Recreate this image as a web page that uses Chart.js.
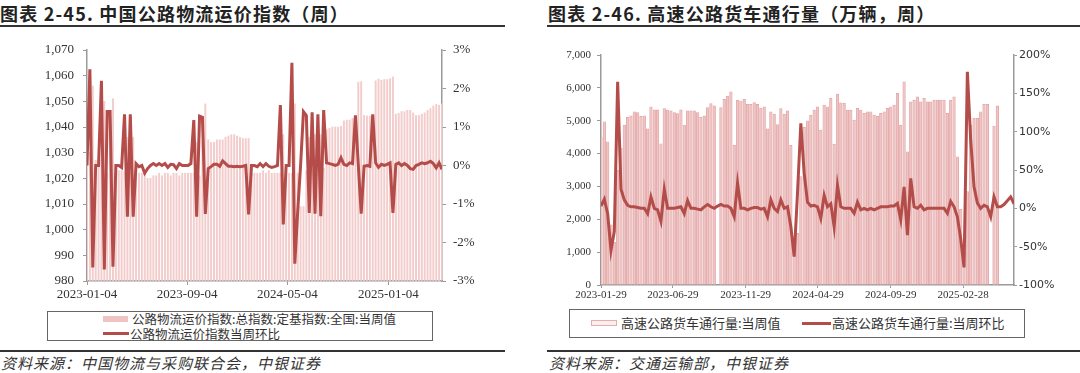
<!DOCTYPE html>
<html>
<head>
<meta charset="utf-8">
<script src="https://cdn.jsdelivr.net/npm/chart.js@4.4.1/dist/chart.umd.min.js"></script>
<style>
  body { margin: 0; width: 1080px; height: 373px; background: #fff; position: relative; overflow: hidden;
         font-family: "Noto Sans CJK SC", sans-serif; color: #222; }
  .title { position: absolute; top: 0; font-size: 18px; font-weight: bold; white-space: nowrap; letter-spacing: 1.2px; }
  .rule { position: absolute; height: 2px; background: #333; }
  canvas { position: absolute; }
  .legend { position: absolute; border: 1px solid #666; box-sizing: border-box; }
  .item { position: absolute; white-space: nowrap; line-height: 14px; color: #333; }
  .src { position: absolute; top: 352px; font-size: 15px; font-style: italic; white-space: nowrap; color: #333; letter-spacing: 1px; }
</style>
</head>
<body>
<div class="title" style="left:0">图表 2-45. 中国公路物流运价指数（周）</div>
<div class="rule" style="left:0;top:25px;width:505px"></div>
<div class="title" style="left:548px">图表 2-46. 高速公路货车通行量（万辆，周）</div>
<div class="rule" style="left:547px;top:25px;width:533px"></div>

<canvas id="freightChart" width="490" height="275" style="left:0;top:28px"></canvas>
<canvas id="truckChart" width="535" height="275" style="left:545px;top:28px"></canvas>

<div class="legend" style="left:47px;top:311px;width:386px;height:30px">
  <div style="position:absolute;left:55px;top:4px;width:25px;height:6px;background:#f0c3c3"></div>
  <div class="item" style="left:84px;top:0;font-size:12.5px">公路物流运价指数:总指数:定基指数:全国:当周值</div>
  <div style="position:absolute;left:55px;top:20px;width:26px;height:3px;background:#b44d49"></div>
  <div class="item" style="left:82px;top:15px;font-size:12.5px">公路物流运价指数当周环比</div>
</div>
<div class="legend" style="left:569px;top:309px;width:456px;height:29px">
  <div style="position:absolute;left:21px;top:10px;width:26px;height:6px;box-sizing:border-box;border:1.5px solid #e6adad;background:#fbeeee"></div>
  <div class="item" style="left:51px;top:6px;font-size:13px">高速公路货车通行量:当周值</div>
  <div style="position:absolute;left:232px;top:12px;width:29px;height:3px;background:#b44d49"></div>
  <div class="item" style="left:262px;top:6px;font-size:13px">高速公路货车通行量:当周环比</div>
</div>

<div class="rule" style="left:0;top:350px;width:505px"></div>
<div class="rule" style="left:547px;top:350px;width:533px"></div>
<div class="src" style="left:1px">资料来源：中国物流与采购联合会，中银证券</div>
<div class="src" style="left:549px">资料来源：交通运输部，中银证券</div>

<script>
// 中国公路物流运价指数（周）, weekly from 2023-01-04
const freightStart = '2023-01-04';
const freightTicks = ['2023-01-04', '2023-09-04', '2024-05-04', '2025-01-04'];
const freightIndex = [
    1030, 1030, 1056, 1027, 1027, 1027, 1050, 1022, 1036, 1051,
    1023, 1023, 1023, 1022.5, 1036, 1022.5, 1036, 1022.5, 1022, 1022,
    1022, 1020, 1020, 1021, 1021, 1022, 1021, 1022, 1022, 1021,
    1022, 1022, 1021, 1022, 1022, 1022, 1022, 1022, 1034, 1021,
    1034, 1049, 1035, 1034, 1034, 1035, 1035, 1035, 1036, 1036.5,
    1037, 1037, 1036.5, 1036, 1035.5, 1035.5, 1035.5, 1022, 1022, 1022,
    1022, 1023, 1022, 1023, 1022, 1022, 1022, 1022, 1037, 1022,
    1022, 1022, 1049, 1022, 1009, 1009, 1023, 1036, 1023, 1037,
    1024, 1037, 1024, 1039, 1039.5, 1040, 1040, 1040, 1040.3, 1042.4,
    1042.7, 1042.7, 1043.4, 1043.9, 1057.5, 1057.7, 1044.5, 1044.3, 1044.3, 1044.1,
    1058, 1058.7, 1058.2, 1058.5, 1058.5, 1058.8, 1059.5, 1045, 1045.3, 1046,
    1046, 1046.5, 1046.5, 1045.5, 1044.5, 1044.5, 1045, 1045.5, 1046.5, 1047.2,
    1048.2, 1048.8, 1048.5, 1049
];
const freightWow = [
    0, 2.5, -2.65, 0, 0, 2.2, -2.7, 1.4, 1.4, -2.63,
    0, 0, -0.05, 1.33, -1.33, 1.33, -1.33, 0.05, -0.03, 0,
    -0.2, -0.08, 0, 0.05, 0, 0.05, 0, 0.05, -0.05, 0.03,
    0.02, -0.08, 0.05, 0, 0, 0, 0.05, 1.18, -1.33, 1.28,
    1.25, -1.26, -0.08, -0.03, 0.03, 0.03, -0.02, 0.12, 0.05, -0.02,
    -0.02, -0.03, -0.02, -0.03, -0.02, 0, -1.27, 0, 0, -0.03,
    0.05, -0.03, 0.05, -0.02, -0.05, -0.03, 0, 1.57, -1.53, 0,
    0, 2.67, -2.55, -1.2, 0, 1.4, 1.3, -1.23, 1.38, -1.25,
    1.33, -1.32, 1.44, 0.07, 0.05, 0.03, 0, 0.03, 0.2, 0.03,
    0, 0.07, 0.05, 1.3, 0.02, -1.25, -0.02, 0, -0.02, 1.33,
    0.07, -0.05, 0.03, 0, 0.03, 0.07, -1.23, 0.03, 0.07, 0,
    0.05, 0, -0.08, -0.1, 0, 0.03, 0.07, 0.05, 0.07, 0.11,
    0.05, -0.06, 0.07, -0.1
];

// 高速公路货车通行量（万辆，周）, weekly from 2023-01-29
const truckStart = '2023-01-29';
const truckTicks = ['2023-01-29', '2023-06-29', '2023-11-29', '2024-04-29', '2024-09-29', '2025-02-28'];
const truckVolume = [
    4512, 4969, 4360, 1830, 1300, 3500, 4158, 4867, 5100, 5150,
    5273, 5250, 5130, 5150, 4750, 5425, 5330, 5330, 4300, 5370,
    5320, 5300, 5250, 5220, 5330, 4870, 5300, 5300, 5300, 5250,
    5100, 5150, 5400, 5520, 5450, null, 5400, 5650, 5750, 5880,
    4250, 5620, 5600, 5650, 5500, 5500, 5550, 5500, 5380, 5420,
    4750, 5270, 5200, 4880, 5370, 5200, 5300, 4250, 1300, 1570,
    3300, 4800, 5000, 5171, 5323, 5425, 4715, 5475, 5425, 5678,
    4289, 5810, 5546, 5526, 5323, 5323, 5019, 5374, 5323, 5222,
    5273, 5273, 5171, 5141, 5222, 5273, 5374, 5425, 5475, 5830,
    4867, 6185, 4056, 5577, 5628, 5729, 5577, 5678, 5577, 5577,
    5628, 5628, 5628, 5628, 5222, 5628, 5729, 3904, 2300, 1000,
    2840, 4867, 5070, 5070, 5273, 5496, 5496, null, 4840, 5450,
    null, null, null, null, null
];
const truckWow = [
    3, 12, -7, -55, -30, 165, 25, 11, 4, 2,
    2, 1, 0, 0, -7, 15, 0, -2, -17, 25,
    0, 0, 0, 1, 2, -7, 10, 0, 0, -1,
    -2, 2, 5, 2, 0, 3, 5, 3, 3, 0,
    -11, 33, 0, 0, -2, 0, 1, 1, -1, 0,
    -11, 11, 0, -4, 11, 0, 2, -24, -63, 20,
    111, 46, 8, 3, 4, 2, -13, 17, 2, 6,
    -24, 30, 2, 0, 0, 0, -6.5, 8, -2, 0,
    -2, 0, -2, 0, 2, 2, 2, 3, 3, 6.5,
    -15, 28, -35, 39, 2, 0, 4, -2, 0, 0,
    0, 0, 0, 0, -6.5, 9, 2, -11, -40, -77,
    178, 89, 28, 7, 0, 4, 2, -11, 15, 2,
    2, 5, 10, 15, 6
];

const LINE_RED = '#b44d49';
const AXIS_GREY = '#9a9a9a';
const TEXT = '#333';

Chart.defaults.font.family = '"Liberation Serif", "Times New Roman", serif';
Chart.defaults.color = TEXT;

// week offset of a date from the series start
function weekOffset(start, date) {
    return (Date.parse(date) - Date.parse(start)) / 604800000;
}

function toPoints(values) {
    return values.map((v, i) => ({ x: i, y: v }));
}

function axisGrid(len) {
    return { drawOnChartArea: false, drawTicks: true, tickLength: len, color: AXIS_GREY, offset: false };
}

/**
 * Left panel: freight price index
 */
function renderFreightChart() {
    const ctx = document.getElementById('freightChart').getContext('2d');
    new Chart(ctx, {
        type: 'bar',
        data: {
            datasets: [{
                type: 'line',
                data: toPoints(freightWow),
                yAxisID: 'y1',
                borderColor: LINE_RED,
                borderWidth: 3,
                pointRadius: 0,
                tension: 0,
                order: 0
            }, {
                type: 'bar',
                data: toPoints(freightIndex),
                yAxisID: 'y',
                base: 980,
                backgroundColor: '#f3cccc',
                barThickness: 1.3,
                order: 1
            }]
        },
        options: {
            responsive: false,
            animation: false,
            devicePixelRatio: 1,
            layout: { padding: { top: 22 } },
            plugins: { legend: { display: false }, tooltip: { enabled: false } },
            scales: {
                x: {
                    type: 'linear',
                    min: 0,
                    max: freightIndex.length - 1,
                    offset: false,
                    grid: axisGrid(4),
                    border: { color: AXIS_GREY, width: 1.5 },
                    afterBuildTicks: s => { s.ticks = freightTicks.map(d => ({ value: weekOffset(freightStart, d) })); },
                    ticks: { autoSkip: false, maxRotation: 0, padding: 2, font: { size: 13 },
                             callback: (v, i) => freightTicks[i] },
                    afterFit: s => { s.height = 22; }
                },
                y: {
                    position: 'left',
                    min: 980,
                    max: 1070,
                    grid: axisGrid(4),
                    border: { color: AXIS_GREY, width: 1.5 },
                    ticks: { stepSize: 10, padding: 9, font: { size: 13 },
                             callback: v => v.toLocaleString('en-US') },
                    afterFit: s => { s.width = 87; }
                },
                y1: {
                    position: 'right',
                    min: -3,
                    max: 3,
                    grid: axisGrid(4),
                    border: { color: AXIS_GREY, width: 1.5 },
                    ticks: { stepSize: 1, padding: 7, font: { size: 13 }, callback: v => v + '%' },
                    afterFit: s => { s.width = 48; }
                }
            }
        }
    });
}

/**
 * Right panel: highway truck traffic
 */
function renderTruckChart() {
    const ctx = document.getElementById('truckChart').getContext('2d');
    new Chart(ctx, {
        type: 'bar',
        data: {
            datasets: [{
                type: 'line',
                data: toPoints(truckWow),
                yAxisID: 'y1',
                borderColor: LINE_RED,
                borderWidth: 3,
                pointRadius: 0,
                tension: 0,
                order: 0
            }, {
                type: 'bar',
                data: toPoints(truckVolume),
                yAxisID: 'y',
                backgroundColor: '#eec4c4',
                borderColor: '#e2a3a3',
                borderWidth: 0.7,
                barThickness: 2.6,
                order: 1
            }]
        },
        options: {
            responsive: false,
            animation: false,
            devicePixelRatio: 1,
            layout: { padding: { top: 27 } },
            plugins: { legend: { display: false }, tooltip: { enabled: false } },
            scales: {
                x: {
                    type: 'linear',
                    min: 0,
                    max: truckVolume.length - 1,
                    offset: false,
                    grid: axisGrid(3),
                    border: { color: AXIS_GREY, width: 1.5 },
                    afterBuildTicks: s => { s.ticks = truckTicks.map(d => ({ value: weekOffset(truckStart, d) })); },
                    ticks: { autoSkip: false, maxRotation: 0, padding: 1, font: { size: 11 },
                             callback: (v, i) => truckTicks[i] },
                    afterFit: s => { s.height = 18; }
                },
                y: {
                    position: 'left',
                    min: 0,
                    max: 7000,
                    grid: axisGrid(4),
                    border: { color: AXIS_GREY, width: 1.5 },
                    ticks: { stepSize: 1000, padding: 6, font: { size: 11 },
                             callback: v => v.toLocaleString('en-US') },
                    afterFit: s => { s.width = 56; }
                },
                y1: {
                    position: 'right',
                    min: -100,
                    max: 200,
                    grid: axisGrid(3),
                    border: { color: AXIS_GREY, width: 1.5 },
                    ticks: { stepSize: 50, padding: 2, font: { size: 11, family: '"DejaVu Sans", sans-serif' },
                             callback: v => v + '%' },
                    afterFit: s => { s.width = 66; }
                }
            }
        }
    });
}

renderFreightChart();
renderTruckChart();
</script>
</body>
</html>
